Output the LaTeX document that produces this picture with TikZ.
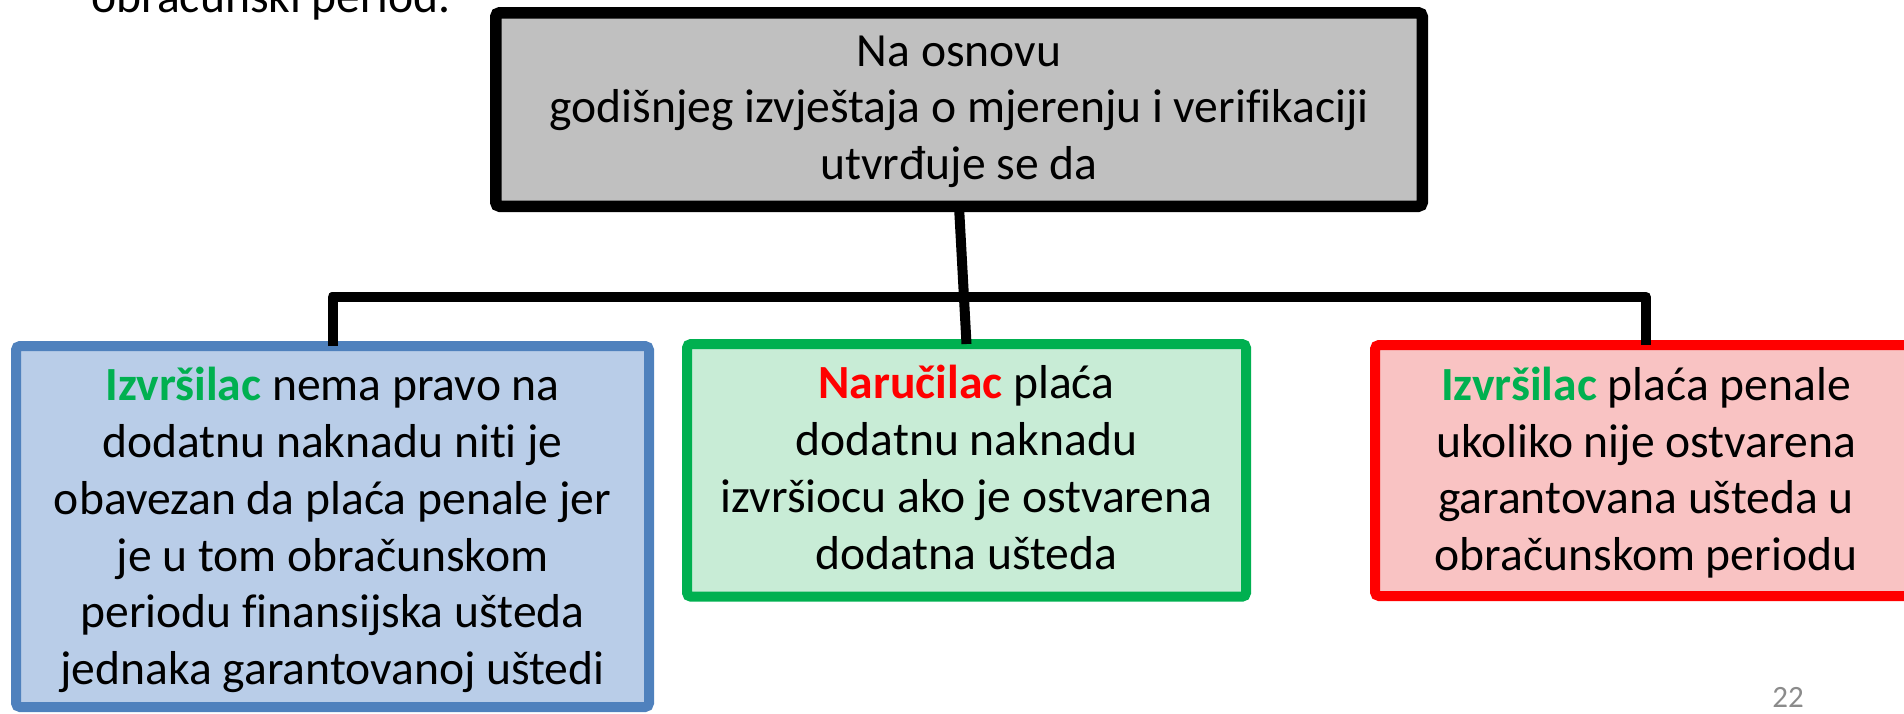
\documentclass[tikz,border=0pt]{standalone}
\usepackage{fontspec}
\setmainfont{Carlito}[Ligatures=NoCommon]
\definecolor{topfill}{HTML}{C0C0C0}
\definecolor{bluefill}{HTML}{B9CDE8}
\definecolor{blueline}{HTML}{4F81BD}
\definecolor{greenfill}{HTML}{C8ECD6}
\definecolor{greenline}{HTML}{00B050}
\definecolor{redfill}{HTML}{F9C3C3}
\definecolor{redline}{HTML}{FF0000}
\definecolor{pgray}{HTML}{8B8B8B}
\tikzset{
  box/.style={draw, rounded corners=2pt, inner sep=0pt, outer sep=0pt, line width=5pt},
  txt/.style={inner sep=0pt, align=center, font=\fontsize{23.8}{28.4}\selectfont},
  conn/.style={draw=black, line width=5pt, line join=round},
}
\begin{document}
\begin{tikzpicture}[x=0.5pt,y=-0.5pt]
\useasboundingbox (0,0) rectangle (1904,713);
\clip (0,0) rectangle (1904,713);
\node[anchor=base west, inner sep=0pt, font=\fontsize{23.8}{28.4}\selectfont] (intro) at (91,12) {obračunski period.};
% boxes
\node[box, draw=black, line width=5.75pt, fill=topfill, minimum width=463.25pt, minimum height=96.75pt] (top) at (959,109.5) {};
\node[box, draw=blueline, fill=bluefill, minimum width=316.5pt, minimum height=180.5pt] (left) at (332.5,526.5) {};
\node[box, draw=greenline, fill=greenfill, minimum width=279.5pt, minimum height=126.35pt] (mid) at (966.5,470.35) {};
\node[box, draw=redline, fill=redfill, minimum width=271pt, minimum height=125.5pt] (right) at (1646,470.5) {};
% texts
\node[txt] (toptext) at (959,111.75)
  {Na osnovu\\godišnjeg izvještaja o mjerenju i verifikaciji\\utvrđuje se da};
\node[txt] (lefttext) at (332.5,530)
  {{\color{greenline}\bfseries Izvršilac} nema pravo na\\dodatnu naknadu niti je\\obavezan da plaća penale jer\\je u tom obračunskom\\periodu finansijska ušteda\\jednaka garantovanoj uštedi};
\node[txt] (midtext) at (966.5,467.6)
  {{\color{redline}\bfseries Naručilac} plaća\\dodatnu naknadu\\izvršiocu ako je ostvarena\\dodatna ušteda};
\node[txt] (righttext) at (1646,472.6)
  {{\color{greenline}\bfseries Izvršilac} plaća penale\\ukoliko nije ostvarena\\garantovana ušteda u\\obračunskom periodu};
% connectors
\coordinate (bar) at (0,296.7);
\draw[conn] (top.south) -- (mid.north);
\draw[conn] (left.north) -- (left.north |- bar) -- (right.north |- bar) -- (right.north);
\node[text=pgray, inner sep=0pt, font=\fontsize{15.5}{18}\selectfont] (pg) at (1788,697) {22};
\end{tikzpicture}
\end{document}
